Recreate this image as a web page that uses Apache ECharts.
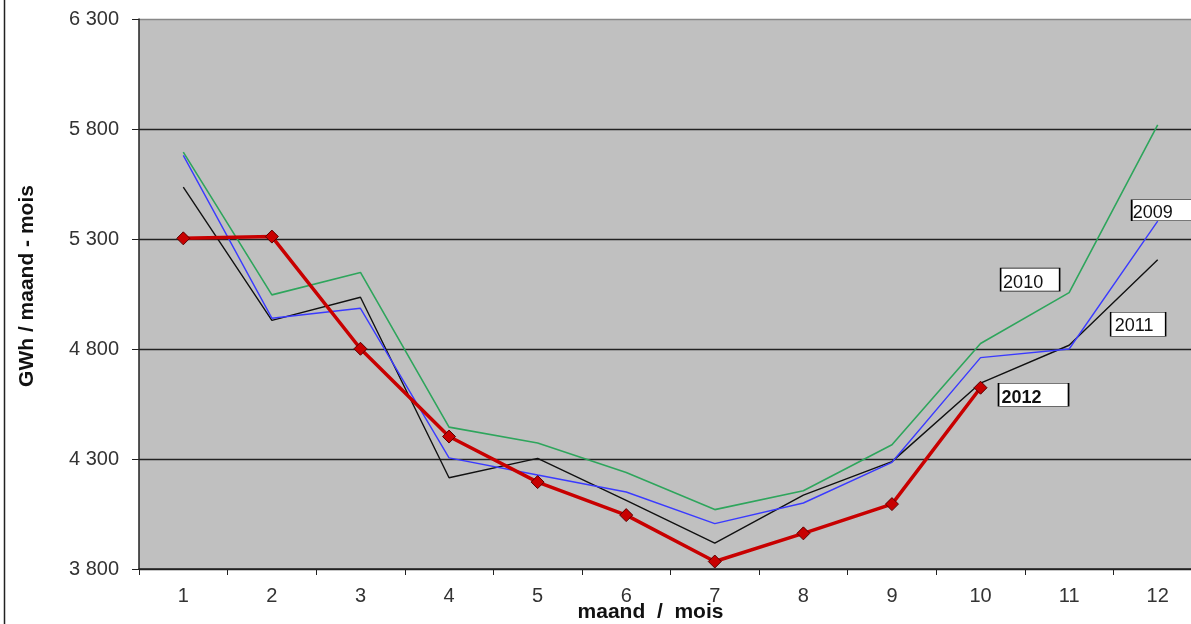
<!DOCTYPE html>
<html>
<head>
<meta charset="utf-8">
<script src="https://cdn.jsdelivr.net/npm/echarts@6/dist/echarts.min.js"></script>
<style>
html,body{margin:0;padding:0;background:#fff;}
#chart{width:1191px;height:624px;}
</style>
</head>
<body>
<div id="chart"></div>
<script>
const months = ['1','2','3','4','5','6','7','8','9','10','11','12'];
const s2009 = [5680, 4940, 4985, 4305, 4227, 4150, 4006, 4100, 4285, 4761, 4800, 5381];
const s2010 = [5695, 5046, 5148, 4445, 4373, 4239, 4070, 4156, 4365, 4825, 5056, 5819];
const s2011 = [5536, 4930, 5035, 4215, 4303, 4112, 3918, 4136, 4288, 4645, 4817, 5206];
const s2012 = [5303, 5311, 4801, 4402, 4195, 4045, 3834, 3962, 4095, 4624];
const yTicks = [3800, 4300, 4800, 5300, 5800, 6300];

const chart = echarts.init(document.getElementById('chart'));
const FONT = '"Liberation Sans", Arial, sans-serif';

function boxMark(label, monthIdx, value, size, offset, textOffset, bold) {
  return {
    symbol: 'rect',
    symbolSize: size,
    symbolOffset: offset,
    silent: true,
    itemStyle: {color: '#ffffff', borderColor: '#000000', borderWidth: 1},
    label: {
      show: true, position: 'inside', formatter: label, offset: textOffset,
      color: '#111', fontFamily: FONT, fontSize: 18, fontWeight: bold ? 'bold' : 'normal'
    },
    data: [{coord: [months[monthIdx], value]}]
  };
}

chart.setOption({
  animation: false,
  backgroundColor: '#ffffff',
  grid: {left: 139, width: 1063, top: 19, bottom: 55, show: true, backgroundColor: '#c0c0c0', borderWidth: 0, outerBoundsMode: 'none', containLabel: false},
  xAxis: {
    type: 'category',
    data: months,
    boundaryGap: true,
    name: 'maand  /  mois',
    nameLocation: 'middle',
    nameGap: 33,
    nameMoveOverlap: false,
    nameTextStyle: {fontFamily: FONT, fontSize: 21, fontWeight: 'bold', color: '#111', padding: [0, 40, 0, 0]},
    axisLine: {show: true, lineStyle: {color: '#222', width: 1.5}},
    axisTick: {show: true, inside: false, length: 6, lineStyle: {color: '#222'}},
    axisLabel: {fontFamily: FONT, fontSize: 20, color: '#333', margin: 17},
    splitLine: {show: false}
  },
  yAxis: {
    type: 'value',
    min: yTicks[0],
    max: yTicks[yTicks.length - 1],
    interval: 500,
    name: 'GWh / maand - mois',
    nameLocation: 'middle',
    nameRotate: 90,
    nameGap: 101,
    nameMoveOverlap: false,
    nameTextStyle: {fontFamily: FONT, fontSize: 21, fontWeight: 'bold', color: '#111', padding: [0, 0, 0, 16]},
    axisLine: {show: true, lineStyle: {color: '#222', width: 1.5}},
    axisTick: {show: true, inside: false, length: 7, lineStyle: {color: '#222'}},
    axisLabel: {
      fontFamily: FONT, fontSize: 20, color: '#333', margin: 20,
      formatter: v => String(v).replace(/\B(?=(\d{3})+(?!\d))/g, ' ')
    },
    splitLine: {show: true, lineStyle: {color: ['#222', '#222', '#222', '#222', '#222', '#888'], width: 1.3}}
  },
  graphic: [{
    type: 'line', shape: {x1: 4.5, y1: 0, x2: 4.5, y2: 624},
    style: {stroke: '#222', lineWidth: 1.5}
  }],
  series: [
    {
      name: '2011', type: 'line', data: s2011, symbol: 'none',
      lineStyle: {color: '#111111', width: 1.4}, itemStyle: {color: '#111111'},
      markPoint: boxMark('2011', 10, s2011[10], [55, 24], [69, -21], [-4, 2], false)
    },
    {
      name: '2010', type: 'line', data: s2010, symbol: 'none',
      lineStyle: {color: '#2ea55c', width: 1.6}, itemStyle: {color: '#2ea55c'},
      markPoint: boxMark('2010', 10, s2010[10], [59, 23], [-39, -13], [-7, 3], false)
    },
    {
      name: '2009', type: 'line', data: s2009, symbol: 'none',
      lineStyle: {color: '#3a3aff', width: 1.4}, itemStyle: {color: '#3a3aff'},
      markPoint: boxMark('2009', 11, s2009[11], [70, 21], [9, -11], [-14, 3], false)
    },
    {
      name: '2012', type: 'line', data: s2012, symbol: 'diamond', symbolSize: 13,
      lineStyle: {color: '#c80000', width: 3.5},
      itemStyle: {color: '#c80000', borderColor: '#5a0000', borderWidth: 1},
      markPoint: boxMark('2012', 9, s2012[9], [70, 23], [53, 7], [-12, 3], true)
    }
  ]
});
</script>
</body>
</html>
